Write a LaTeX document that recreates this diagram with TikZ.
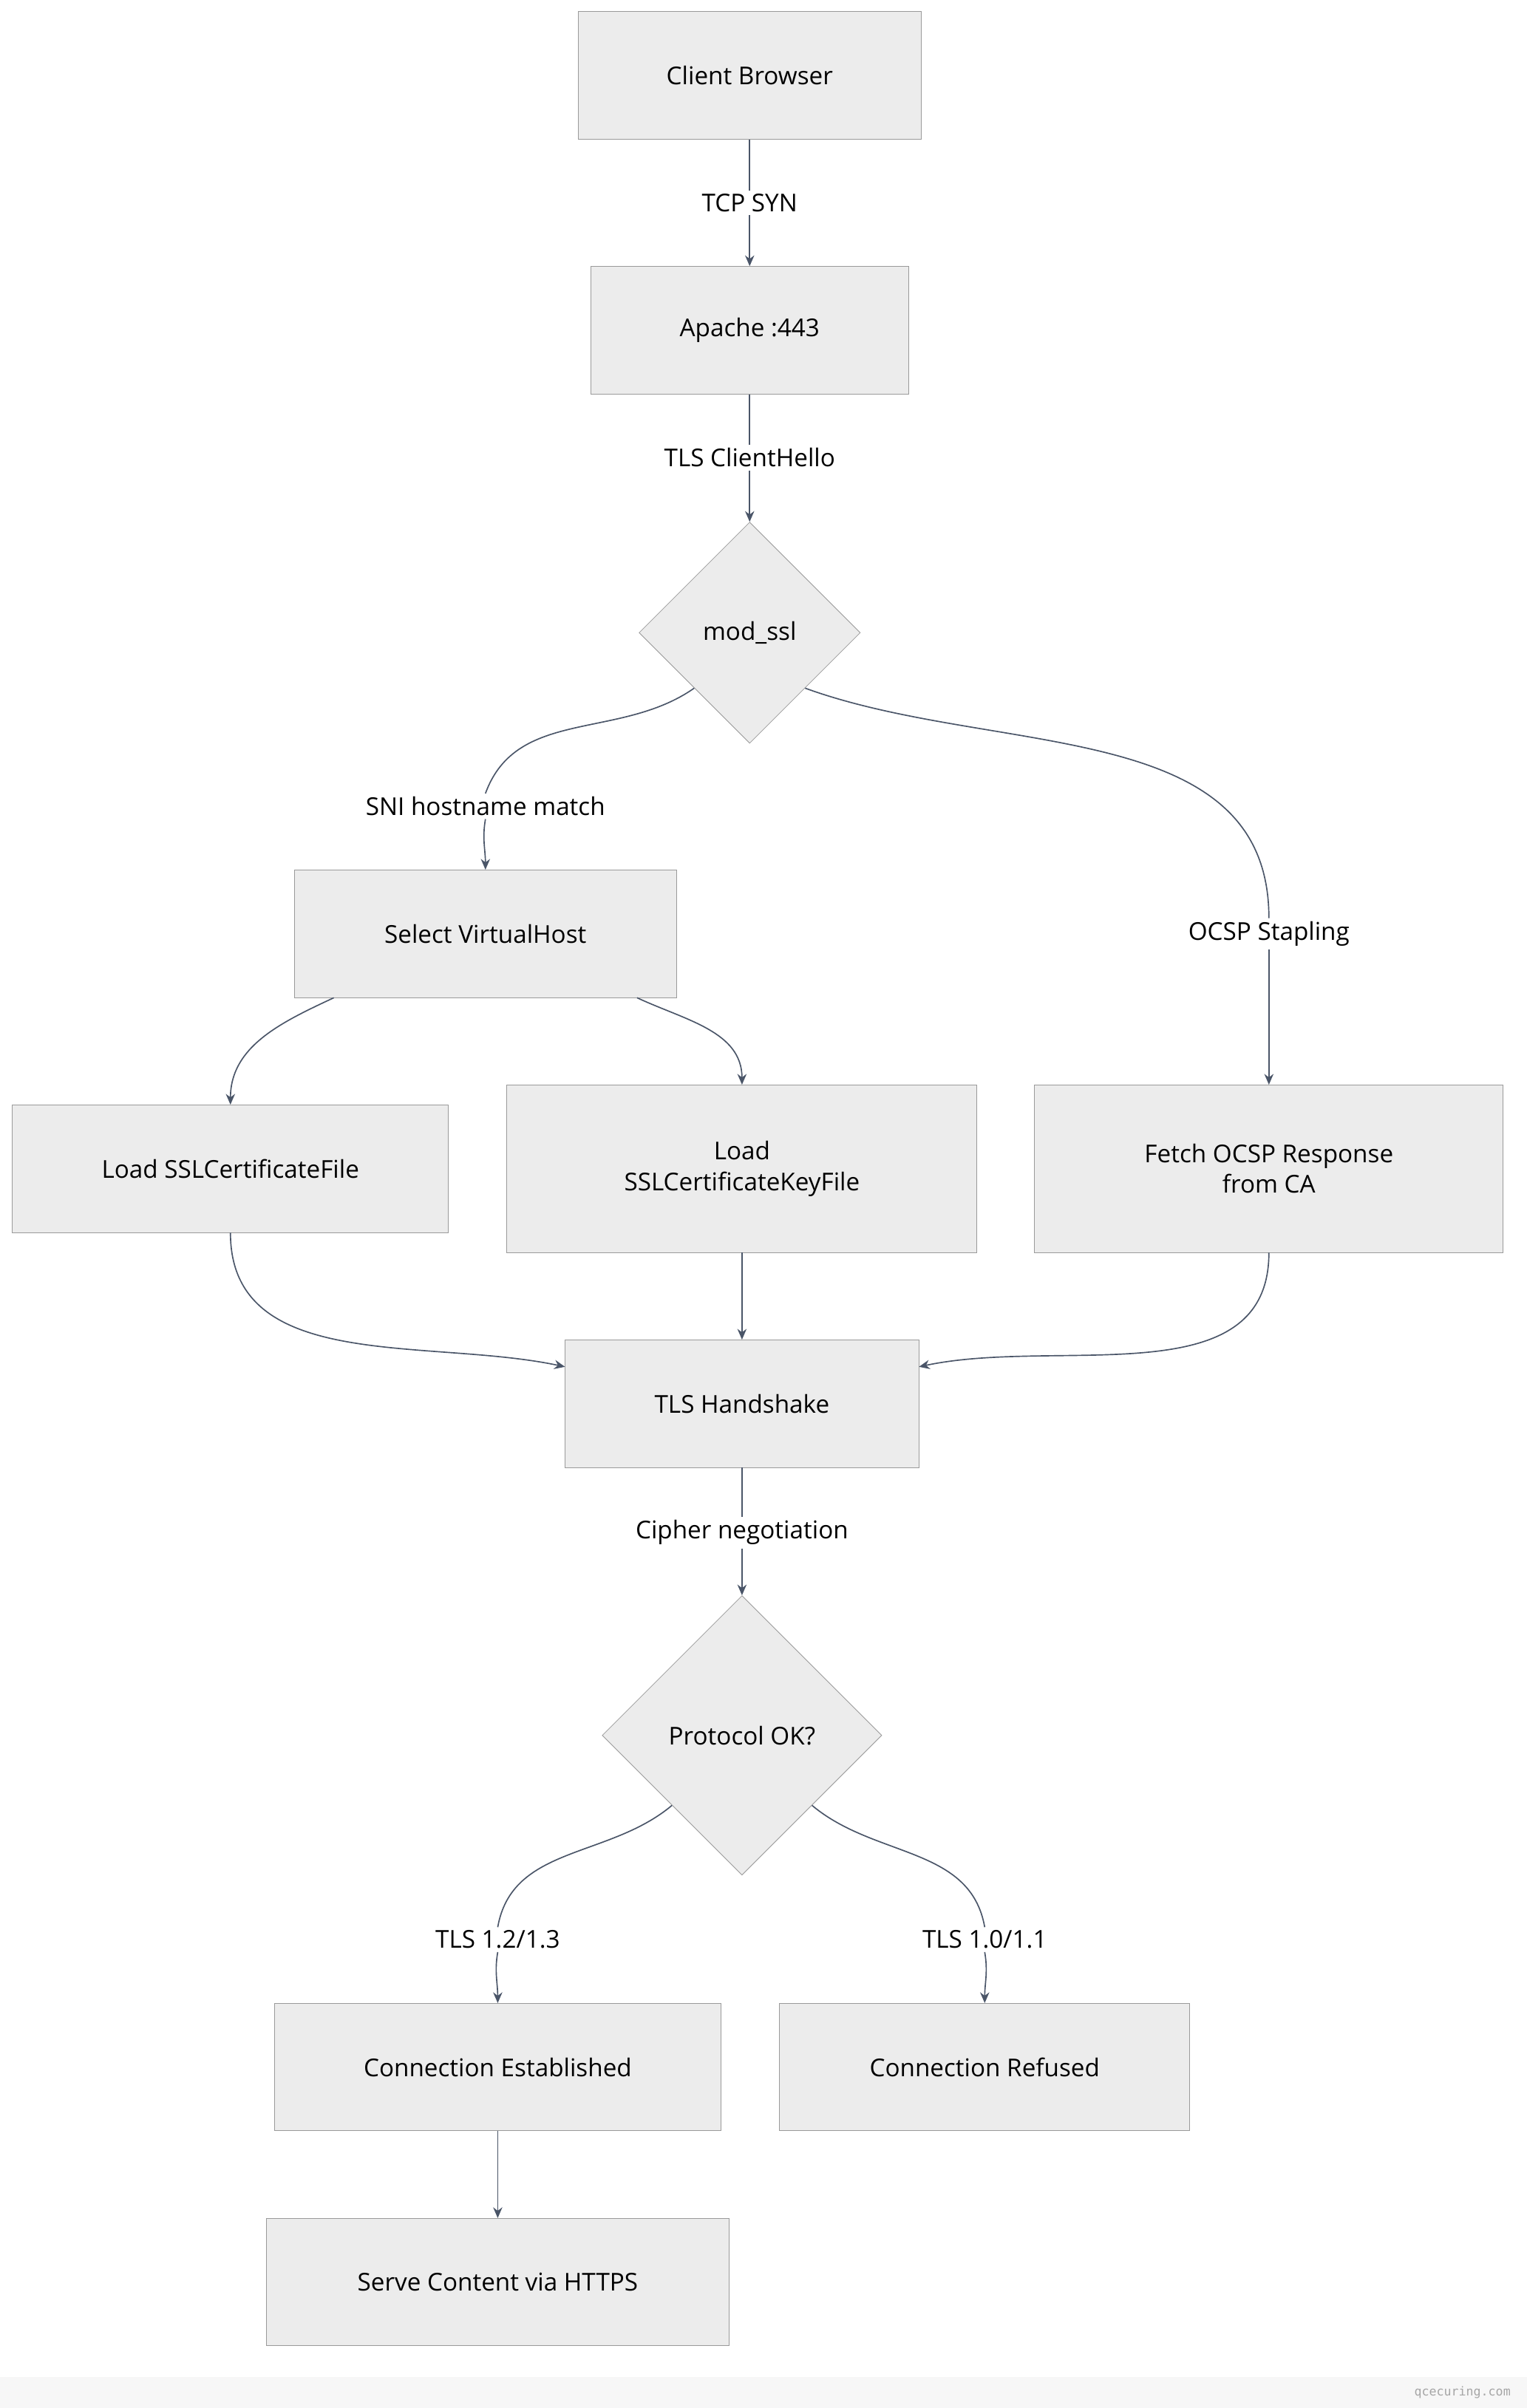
\documentclass[tikz,border=0pt]{standalone}
\usepackage{fontspec}
\setmainfont{Open Sans}
\setmonofont{DejaVu Sans Mono}
\usetikzlibrary{shapes.geometric,arrows.meta}
\definecolor{boxfill}{HTML}{ECECEC}
\definecolor{boxline}{HTML}{9A9A9A}
\definecolor{edge}{HTML}{4A5568}
\begin{document}
\begin{tikzpicture}[x=1pt,y=-1pt,
  font=\fontsize{16}{20}\selectfont,
  box/.style = {draw=boxline, fill=boxfill, rectangle, minimum height=83pt, align=center},
  dec/.style = {draw=boxline, fill=boxfill, diamond, minimum width=#1, minimum height=#1, inner sep=0pt, aspect=1},
  lbl/.style = {fill=white, inner sep=2pt},
  link/.style = {draw=edge, line width=0.8pt},
  arr/.style = {link, -{Stealth[length=7pt,width=6pt]}}]
\useasboundingbox (0,0) rectangle (994,1568);
\fill[gray!6] (0,1548) rectangle (994,1568);
\node[font=\ttfamily\fontsize{8}{10}\selectfont, text=gray!70] (wm) at (952,1558) {qcecuring.com};
% nodes
\node[box, minimum width=223pt] (cb) at (488,49) {Client Browser};
\node[box, minimum width=207pt] (ap) at (488,215) {Apache :443};
\node[dec=144pt] (ms) at (488,412) {mod\_ssl};
\node[box, minimum width=249pt] (vh) at (316,608) {Select VirtualHost};
\node[box, minimum width=284pt] (cf) at (150,761) {Load SSLCertificateFile};
\node[box, minimum width=306pt, minimum height=109pt] (kf) at (483,761) {Load\\SSLCertificateKeyFile};
\node[box, minimum width=305pt, minimum height=109pt] (oc) at (826,761) {Fetch OCSP Response\\from CA};
\node[box, minimum width=230pt] (hs) at (483,914) {TLS Handshake};
\node[dec=182pt] (po) at (483,1130) {Protocol OK?};
\node[box, minimum width=291pt] (ce) at (324,1346) {Connection Established};
\node[box, minimum width=267pt] (cr) at (641,1346) {Connection Refused};
\node[box, minimum width=301pt] (sc) at (324,1486) {Serve Content via HTTPS};
% labels
\node[lbl] (l1) at (488,132) {TCP SYN};
\node[lbl] (l2) at (488,298) {TLS ClientHello};
\node[lbl] (l3) at (316,525) {SNI hostname match};
\node[lbl] (l4) at (826,608) {OCSP Stapling};
\node[lbl] (l5) at (483,998) {Cipher negotiation};
\node[lbl] (l6) at (324,1263) {TLS 1.2/1.3};
\node[lbl] (l7) at (641,1263) {TLS 1.0/1.1};
% edges
\draw[link] (cb) -- (l1);
\draw[arr] (l1) -- (ap);
\draw[link] (ap) -- (l2);
\draw[arr] (l2) -- (ms);
\draw[link] (ms.south west) to[out=-145,in=70] (l3.north);
\draw[arr] (l3.south) to[out=-100,in=90] (vh.north);
\draw[link] (ms.south east) to[out=-20,in=90] (l4.north);
\draw[arr] (l4) -- (oc);
\draw[arr] (vh.south west) ++(26,0) to[out=-155,in=90] (cf.north);
\draw[arr] (vh.south east) ++(-26,0) to[out=-25,in=90] (kf.north);
\draw[arr] (cf.south) to[out=-90,in=168] (hs.west |- 0,890);
\draw[arr] (kf) -- (hs);
\draw[arr] (oc.south) to[out=-90,in=12] (hs.east |- 0,890);
\draw[link] (hs) -- (l5);
\draw[arr] (l5) -- (po);
\draw[link] (po.south west) to[out=-140,in=80] (l6.north);
\draw[arr] (l6.south) to[out=-100,in=90] (ce.north);
\draw[link] (po.south east) to[out=-40,in=100] (l7.north);
\draw[arr] (l7.south) to[out=-80,in=90] (cr.north);
\draw[arr] (ce) -- (sc);
\end{tikzpicture}
\end{document}
